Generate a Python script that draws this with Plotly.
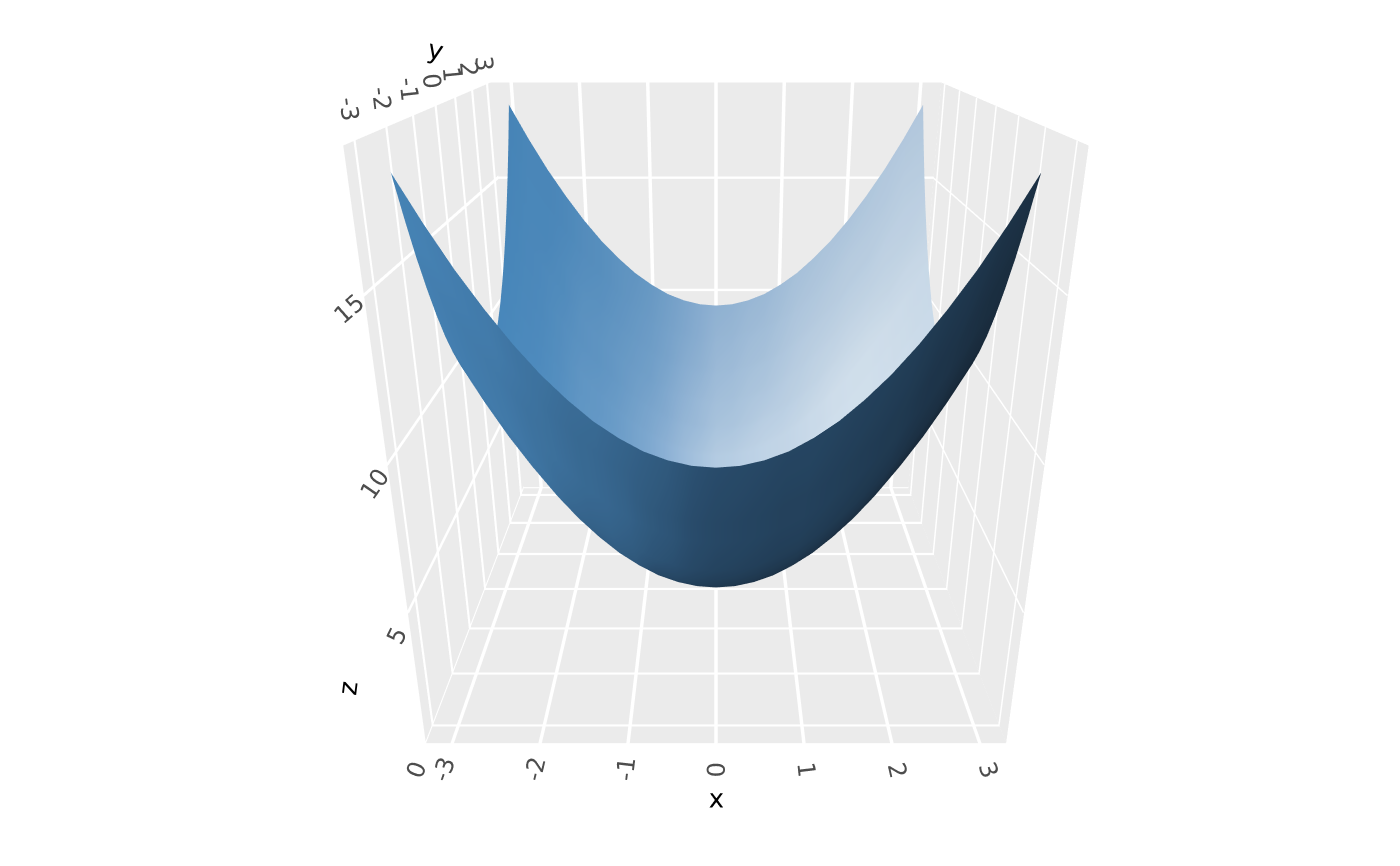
import plotly.graph_objects as go

x = [-3, -2.75, -2.5, -2.25, -2, -1.75, -1.5, -1.25, -1, -0.75, -0.5, -0.25, 0, 0.25, 0.5, 0.75, 1, 1.25, 1.5, 1.75, 2, 2.25, 2.5, 2.75, 3]
y = [-3, -2.75, -2.5, -2.25, -2, -1.75, -1.5, -1.25, -1, -0.75, -0.5, -0.25, 0, 0.25, 0.5, 0.75, 1, 1.25, 1.5, 1.75, 2, 2.25, 2.5, 2.75, 3]

# surface height, the rows repeat because the bowl is symmetric in y
z0 = [18.09, 16.72, 15.46, 14.34, 13.32, 12.42, 11.65, 10.98, 10.45, 10.02, 9.73, 9.55, 9.49, 9.55, 9.73, 10.02, 10.45, 10.98, 11.65, 12.42, 13.32, 14.34, 15.46, 16.72, 18.09]
z1 = [16.72, 15.35, 14.09, 12.97, 11.95, 11.05, 10.28, 9.61, 9.08, 8.65, 8.36, 8.18, 8.12, 8.18, 8.36, 8.65, 9.08, 9.61, 10.28, 11.05, 11.95, 12.97, 14.09, 15.35, 16.72]
z2 = [15.46, 14.09, 12.83, 11.71, 10.69, 9.79, 9.02, 8.35, 7.82, 7.39, 7.10, 6.92, 6.86, 6.92, 7.10, 7.39, 7.82, 8.35, 9.02, 9.79, 10.69, 11.71, 12.83, 14.09, 15.46]
z3 = [14.34, 12.97, 11.71, 10.59, 9.57, 8.67, 7.90, 7.23, 6.70, 6.27, 5.98, 5.80, 5.74, 5.80, 5.98, 6.27, 6.70, 7.23, 7.90, 8.67, 9.57, 10.59, 11.71, 12.97, 14.34]
z4 = [13.32, 11.95, 10.69, 9.57, 8.55, 7.65, 6.88, 6.21, 5.68, 5.25, 4.96, 4.78, 4.72, 4.78, 4.96, 5.25, 5.68, 6.21, 6.88, 7.65, 8.55, 9.57, 10.69, 11.95, 13.32]
z5 = [12.42, 11.05, 9.79, 8.67, 7.65, 6.75, 5.98, 5.31, 4.78, 4.35, 4.06, 3.88, 3.82, 3.88, 4.06, 4.35, 4.78, 5.31, 5.98, 6.75, 7.65, 8.67, 9.79, 11.05, 12.42]
z6 = [11.65, 10.28, 9.02, 7.90, 6.88, 5.98, 5.21, 4.54, 4.01, 3.58, 3.29, 3.11, 3.05, 3.11, 3.29, 3.58, 4.01, 4.54, 5.21, 5.98, 6.88, 7.90, 9.02, 10.28, 11.65]
z7 = [10.98, 9.61, 8.35, 7.23, 6.21, 5.31, 4.54, 3.87, 3.34, 2.91, 2.62, 2.44, 2.38, 2.44, 2.62, 2.91, 3.34, 3.87, 4.54, 5.31, 6.21, 7.23, 8.35, 9.61, 10.98]
z8 = [10.45, 9.08, 7.82, 6.70, 5.68, 4.78, 4.01, 3.34, 2.81, 2.38, 2.09, 1.91, 1.85, 1.91, 2.09, 2.38, 2.81, 3.34, 4.01, 4.78, 5.68, 6.70, 7.82, 9.08, 10.45]
z9 = [10.02, 8.65, 7.39, 6.27, 5.25, 4.35, 3.58, 2.91, 2.38, 1.95, 1.66, 1.48, 1.42, 1.48, 1.66, 1.95, 2.38, 2.91, 3.58, 4.35, 5.25, 6.27, 7.39, 8.65, 10.02]
z10 = [9.73, 8.36, 7.10, 5.98, 4.96, 4.06, 3.29, 2.62, 2.09, 1.66, 1.37, 1.19, 1.13, 1.19, 1.37, 1.66, 2.09, 2.62, 3.29, 4.06, 4.96, 5.98, 7.10, 8.36, 9.73]
z11 = [9.55, 8.18, 6.92, 5.80, 4.78, 3.88, 3.11, 2.44, 1.91, 1.48, 1.19, 1.01, 0.95, 1.01, 1.19, 1.48, 1.91, 2.44, 3.11, 3.88, 4.78, 5.80, 6.92, 8.18, 9.55]
z12 = [9.49, 8.12, 6.86, 5.74, 4.72, 3.82, 3.05, 2.38, 1.85, 1.42, 1.13, 0.95, 0.89, 0.95, 1.13, 1.42, 1.85, 2.38, 3.05, 3.82, 4.72, 5.74, 6.86, 8.12, 9.49]
z = [z0, z1, z2, z3, z4, z5, z6, z7, z8, z9, z10, z11, z12, z11, z10, z9, z8, z7, z6, z5, z4, z3, z2, z1, z0]

# shade at each grid point (dark outer face in front, pale inner face behind)
s_mid = [.48, .48, .48, .48, .48, .48, .48, .48, .48, .48, .48, .48, .48, .48, .48, .48, .48, .48, .48, .48, .48, .48, .48, .48, .48]
s_rim = [.50, .51, .52, .54, .57, .58, .60, .63, .66, .70, .75, .79, .83, .84, .86, .88, .89, .91, .93, .95, .96, .96, .95, .94, .93]
s_low = [.46, .45, .44, .43, .41, .35, .33, .32, .30, .22, .20, .17, .15, .14, .13, .12, .12, .11, .10, .09, .08, .06, .05, .03, .02]
shade = [
    [.50, .49, .48, .47, .45, .44, .42, .41, .39, .37, .35, .32, .30, .29, .28, .27, .27, .26, .25, .24, .23, .21, .20, .18, .17],
    [.50, .49, .48, .47, .45, .43, .41, .40, .38, .36, .34, .31, .29, .28, .27, .26, .26, .25, .24, .23, .22, .20, .19, .17, .16],
    [.49, .48, .47, .46, .44, .43, .41, .40, .38, .35, .33, .30, .28, .27, .26, .25, .25, .24, .23, .22, .21, .19, .18, .16, .15],
    [.49, .48, .47, .46, .44, .43, .41, .40, .38, .35, .33, .30, .28, .27, .26, .25, .25, .24, .23, .22, .21, .19, .18, .16, .15],
    [.49, .48, .47, .46, .44, .42, .40, .39, .37, .34, .32, .29, .27, .26, .25, .24, .24, .23, .22, .21, .20, .18, .17, .15, .14],
    [.49, .48, .47, .46, .44, .41, .39, .38, .36, .33, .31, .28, .26, .25, .24, .23, .23, .22, .21, .20, .19, .17, .16, .14, .13],
    [.48, .47, .46, .45, .43, .40, .38, .37, .35, .31, .29, .26, .24, .23, .22, .21, .21, .20, .19, .18, .17, .15, .14, .12, .11],
    [.48, .47, .46, .45, .43, .39, .37, .36, .34, .29, .27, .24, .22, .21, .20, .19, .19, .18, .17, .16, .15, .13, .12, .10, .09],
    [.47, .46, .45, .44, .42, .38, .36, .35, .33, .27, .25, .22, .20, .19, .18, .17, .17, .16, .15, .14, .13, .11, .10, .08, .07],
    [.46, .45, .44, .43, .41, .37, .35, .34, .32, .25, .23, .20, .18, .17, .16, .15, .15, .14, .13, .12, .11, .09, .08, .06, .05],
    [.46, .45, .44, .43, .41, .36, .34, .33, .31, .23, .21, .18, .16, .15, .14, .13, .13, .12, .11, .10, .09, .07, .06, .04, .03],
    s_low, s_low, s_low, s_mid,
    s_rim, s_rim, s_rim, s_rim, s_rim,
    [.50, .51, .52, .54, .56, .57, .59, .62, .65, .68, .73, .76, .80, .81, .83, .85, .86, .88, .90, .92, .93, .93, .92, .92, .91],
    [.50, .51, .52, .53, .56, .57, .59, .61, .63, .67, .71, .75, .78, .79, .81, .82, .84, .86, .88, .89, .90, .90, .90, .89, .89],
    [.50, .51, .51, .53, .55, .56, .58, .60, .62, .65, .69, .72, .76, .77, .79, .80, .82, .84, .85, .86, .87, .87, .88, .88, .87],
    [.50, .51, .51, .52, .54, .55, .57, .59, .61, .64, .67, .70, .74, .75, .77, .78, .80, .82, .83, .84, .85, .85, .85, .86, .85],
    [.50, .51, .51, .52, .54, .55, .57, .58, .60, .63, .66, .69, .72, .73, .75, .76, .78, .80, .81, .82, .82, .83, .84, .84, .84],
]
xy_ticks = [-3, -2, -1, 0, 1, 2, 3]
xy_labels = ["-3", "-2", "-1", "0", "1", "2", "3"]
z_ticks = [0, 5, 10, 15]
z_labels = ["0", "5", "10", "15"]
xy_range = [-3.3, 3.3]
z_range = [0, 18.9]

colorscale = [[0, "#0f1a24"], [0.15, "#1b2f42"], [0.3, "#2b5071"], [0.5, "#4a8abf"],
              [0.7, "#8fb4d8"], [0.85, "#bcd2e7"], [1, "#dde9f3"]]

axis = dict(backgroundcolor="#ebebeb", showbackground=True, gridcolor="white", gridwidth=7,
            zeroline=False, showspikes=False, ticks="outside", ticklen=12, tickcolor="rgba(0,0,0,0)",
            showline=False, tickmode="array",
            tickfont=dict(family="DejaVu Sans", size=17, color="#4d4d4d"))
title_font = dict(family="DejaVu Sans", size=26, color="black")

fig = go.Figure()

# second side wall and its grid, plotly only draws one of the two
side = xy_range[1]
fig.add_trace(go.Surface(x=[[side, side], [side, side]], y=[xy_range, xy_range],
                         z=[[z_range[0], z_range[0]], [z_range[1], z_range[1]]],
                         surfacecolor=[[0, 0], [0, 0]], colorscale=[[0, "#ebebeb"], [1, "#ebebeb"]],
                         showscale=False, hoverinfo="skip",
                         lighting=dict(ambient=1, diffuse=0, specular=0, fresnel=0)))
grid_x, grid_y, grid_z = [], [], []
for wall in xy_range:
    for t in xy_ticks:
        grid_x += [wall, wall, None]
        grid_y += [t, t, None]
        grid_z += [z_range[0], z_range[1], None]
    for t in z_ticks[1:]:
        grid_x += [wall, wall, None]
        grid_y += [xy_range[0], xy_range[1], None]
        grid_z += [t, t, None]
fig.add_trace(go.Scatter3d(x=grid_x, y=grid_y, z=grid_z, mode="lines", line=dict(color="white", width=6),
                           hoverinfo="skip", showlegend=False))

fig.add_trace(go.Surface(x=x, y=y, z=z, surfacecolor=shade, cmin=0, cmax=1, colorscale=colorscale,
                         showscale=False, hoverinfo="skip",
                         lighting=dict(ambient=0.95, diffuse=0.1, specular=0, fresnel=0, roughness=0.5)))
fig.update_layout(
    width=1400, height=866, paper_bgcolor="white", margin=dict(l=0, r=0, t=0, b=0),
    font=dict(family="DejaVu Sans"), showlegend=False,
    scene=dict(
        domain=dict(x=[0.0114, 1], y=[0, 1]),
        xaxis=dict(axis, range=xy_range, tickvals=xy_ticks, ticktext=xy_labels, title=dict(text="x", font=title_font)),
        yaxis=dict(axis, range=xy_range, tickvals=xy_ticks, ticktext=xy_labels, ticks="", title=dict(text="")),
        zaxis=dict(axis, range=z_range, tickvals=z_ticks, ticktext=z_labels, ticklen=40, title=dict(text="")),
        aspectmode="cube",
        camera=dict(center=dict(x=0, y=-0.055, z=-0.126), eye=dict(x=0, y=-1.944, z=0.696), up=dict(x=0, y=0, z=1)),
    ),
    annotations=[
        dict(text="y", x=427 / 1400, y=1 - 42 / 866, xref="paper", yref="paper", xanchor="center", yanchor="middle",
             showarrow=False, textangle=12, font=title_font),
        dict(text="z", x=340 / 1400, y=1 - 680 / 866, xref="paper", yref="paper", xanchor="center", yanchor="middle",
             showarrow=False, textangle=-83, font=title_font),
    ],
)
fig.write_html("out.html")
